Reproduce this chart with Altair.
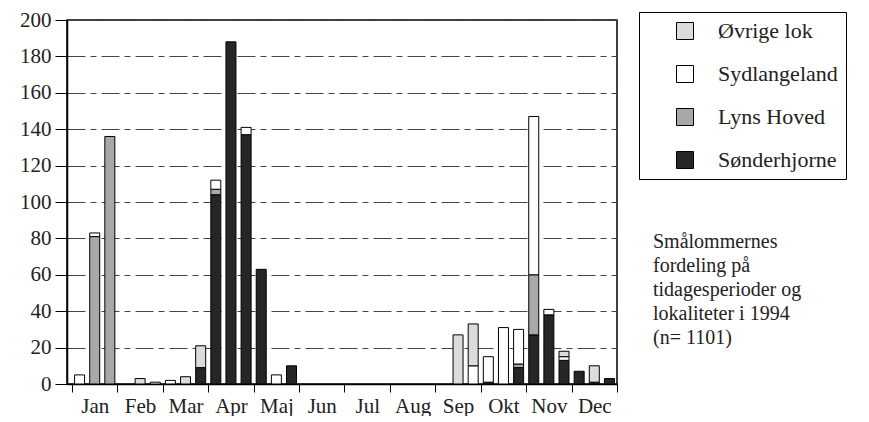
import json
import altair as alt
import pandas as pd

months = ["Jan", "Feb", "Mar", "Apr", "Maj", "Jun", "Jul", "Aug", "Sep", "Okt", "Nov", "Dec"]
series_names = ["Øvrige lok", "Sydlangeland", "Lyns Hoved", "Sønderhjorne"]
# three ten-day periods per month, Jan..Dec
sonderhjorne = [0, 0, 0,  0, 0, 0,  0, 0, 9,  104, 188, 137,  63, 0, 10,  0, 0, 0,
                0, 0, 0,  0, 0, 0,  0, 0, 0,  1, 0, 9,  27, 38, 13,  7, 1, 3]
lyns_hoved = [0, 81, 136,  0, 0, 0,  0, 0, 0,  3, 0, 0,  0, 0, 0,  0, 0, 0,
              0, 0, 0,  0, 0, 0,  0, 0, 0,  0, 0, 2,  33, 0, 0,  0, 0, 0]
sydlangeland = [5, 2, 0,  0, 0, 1,  2, 0, 0,  5, 0, 4,  0, 5, 0,  0, 0, 0,
                0, 0, 0,  0, 0, 0,  0, 0, 10,  14, 31, 19,  87, 3, 2,  0, 0, 0]
ovrige_lok = [0, 0, 0,  0, 3, 0,  0, 4, 12,  0, 0, 0,  0, 0, 0,  0, 0, 0,
              0, 0, 0,  0, 0, 0,  0, 27, 23,  0, 0, 0,  0, 0, 3,  0, 9, 0]
colors = ["#dcdcdc", "#ffffff", "#a8a8a8", "#262626"]
caption = ["Smålommernes", "fordeling på", "tidagesperioder og", "lokaliteter i 1994", "(n= 1101)"]
y_ticks = list(range(0, 201, 20))

stack_rank = {"Sønderhjorne": 0, "Lyns Hoved": 1, "Sydlangeland": 2, "Øvrige lok": 3}
rows = []
for name, vals in [("Sønderhjorne", sonderhjorne), ("Lyns Hoved", lyns_hoved),
                   ("Sydlangeland", sydlangeland), ("Øvrige lok", ovrige_lok)]:
    for i, v in enumerate(vals):
        if v > 0:
            m, s = divmod(i, 3)
            rows.append({"pos": m + (s + 0.5) / 3, "value": v, "series": name,
                         "rank": stack_rank[name]})
df = pd.DataFrame(rows)

FONT = "Liberation Serif"
x_values = [k / 2 for k in range(0, 25)]
label_expr = ("floor(datum.value) != datum.value ? " + json.dumps(months, ensure_ascii=False)
              + "[floor(datum.value)] : ''")

bars = alt.Chart(df).mark_bar(width=10, stroke="black", strokeWidth=1).encode(
    x=alt.X("pos:Q", scale=alt.Scale(domain=[-0.11, 12], nice=False, zero=False, padding=0),
            axis=alt.Axis(values=x_values, labelExpr=label_expr, title=None, grid=False,
                          tickSize=8, labelPadding=3, labelFlush=False, labelOverlap=False,
                          tickOpacity={"condition": {"test": "floor(datum.value) == datum.value", "value": 1}, "value": 0},
                          domainColor="black", domainWidth=1.5, tickColor="black",
                          labelFontSize=21, labelFont=FONT, labelColor="#222")),
    y=alt.Y("value:Q", stack="zero", scale=alt.Scale(domain=[0, 200], nice=False),
            axis=alt.Axis(values=y_ticks, title=None, tickSize=12, labelPadding=4, minExtent=54,
                          grid=True, gridColor="#444", gridDash=[18, 5, 6, 5], gridWidth=1,
                          domainColor="black", domainWidth=1.5, tickColor="black",
                          labelFontSize=21, labelFont=FONT, labelColor="#222")),
    color=alt.Color("series:N", scale=alt.Scale(domain=series_names, range=colors),
                    legend=alt.Legend(orient="none", legendX=572, legendY=-8, title=None,
                                      padding=8, strokeColor="black", fillColor="white",
                                      symbolType="square", symbolSize=289,
                                      symbolStrokeColor="black", symbolStrokeWidth=1,
                                      symbolOffset=27, labelOffset=22, rowPadding=21,
                                      labelFontSize=22, labelFont=FONT, labelColor="#222",
                                      labelLimit=300)),
    order=alt.Order("rank:Q", sort="ascending"),
)

text = alt.Chart(pd.DataFrame({"k": [0]})).mark_text(
    text=caption, align="left", baseline="top", fontSize=20, lineHeight=24,
    font=FONT, color="#222"
).encode(x=alt.value(586), y=alt.value(212))

chart = alt.layer(bars, text).properties(
    width=550, height=364,
    padding={"top": 1, "left": 5, "bottom": 0, "right": 0},
).configure(font=FONT).configure_view(stroke="black", strokeWidth=1.5)

chart.save("out.html", embed_options={"renderer": "svg", "actions": False})
